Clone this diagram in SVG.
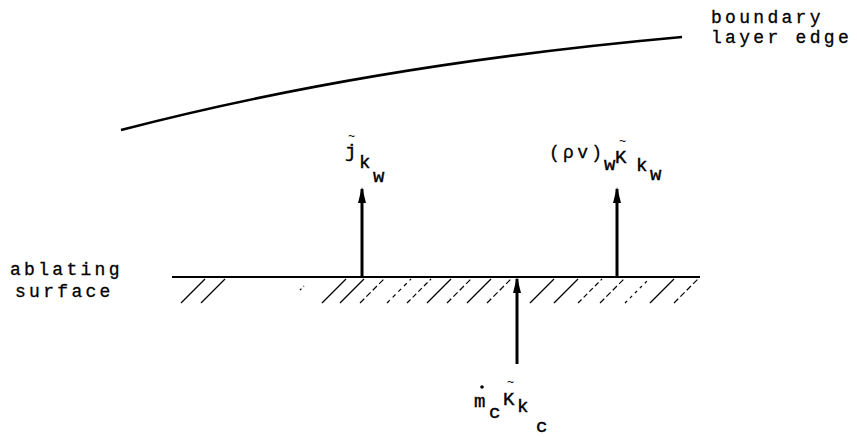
<svg xmlns="http://www.w3.org/2000/svg" width="857" height="437" viewBox="0 0 857 437">
<defs>
<style>
.t{font-family:"Liberation Mono","Courier New",monospace;font-size:18px;fill:#000;letter-spacing:3.3px;stroke:#000;stroke-width:0.3}
.s{font-family:"Liberation Mono","Courier New",monospace;font-size:19px;fill:#000;stroke:#000;stroke-width:0.4}
.tl{font-family:"Liberation Mono","Courier New",monospace;font-size:12px;fill:#000}
.ln{stroke:#000;fill:none}
.ar{stroke:#000;stroke-width:3;fill:none}
.h{stroke:#000;stroke-width:1.2;fill:none}
</style>
<marker id="ah" viewBox="0 0 16 8" refX="14" refY="4" markerWidth="16" markerHeight="8" markerUnits="userSpaceOnUse" orient="auto">
<path d="M0,0 L16,4 L0,8 Z" fill="#000"/>
</marker>
</defs>
<rect width="857" height="437" fill="#fff"/>
<g id="boundary-layer">
<path class="ln" stroke-width="2.5" d="M121,130 Q370,65 682,37"/>
<text class="t" x="711" y="23">boundary</text>
<text class="t" x="711" y="43">layer edge</text>
</g>
<g id="surface">
<line class="ln" stroke-width="2" x1="172" y1="277" x2="700" y2="277"/>
<g class="h">
<line x1="181" y1="303" x2="205" y2="279"/>
<line x1="201" y1="303" x2="225" y2="279"/>
<line x1="300" y1="290" x2="304" y2="286" stroke-dasharray="2 3"/>
<line x1="322" y1="303" x2="346" y2="279"/>
<line x1="340" y1="303" x2="364" y2="279"/>
<line x1="360" y1="303" x2="384" y2="279" stroke-dasharray="6 3"/>
<line x1="387" y1="303" x2="411" y2="279" stroke-dasharray="4 4"/>
<line x1="407" y1="303" x2="431" y2="279" stroke-dasharray="5 3"/>
<line x1="427" y1="303" x2="451" y2="279"/>
<line x1="447" y1="303" x2="471" y2="279" stroke-dasharray="6 3"/>
<line x1="467" y1="303" x2="491" y2="279"/>
<line x1="487" y1="303" x2="511" y2="279" stroke-dasharray="6 3"/>
<line x1="530" y1="303" x2="554" y2="279"/>
<line x1="554" y1="303" x2="578" y2="279"/>
<line x1="578" y1="303" x2="602" y2="279" stroke-dasharray="5 3"/>
<line x1="600" y1="303" x2="624" y2="279" stroke-dasharray="6 3"/>
<line x1="625" y1="303" x2="649" y2="279" stroke-dasharray="3 4"/>
<line x1="650" y1="303" x2="674" y2="279"/>
<line x1="674" y1="303" x2="698" y2="279" stroke-dasharray="6 3"/>
</g>
<text class="t" x="10" y="275">ablating</text>
<text class="t" x="15" y="297">surface</text>
</g>
<g id="connectors">
<line class="ar" x1="362" y1="277" x2="362" y2="189" marker-end="url(#ah)"/>
<line class="ar" x1="617" y1="277" x2="617" y2="189" marker-end="url(#ah)"/>
<line class="ar" x1="517" y1="364" x2="517" y2="279" marker-end="url(#ah)"/>
</g>
<g id="label-j">
<text class="s" x="345" y="157">j</text>
<text class="tl" x="348" y="140">~</text>
<text class="s" x="359" y="168">k</text>
<text class="s" x="373" y="182">w</text>
</g>
<g id="label-rhov">
<text class="t" x="549" y="158" font-size="14" letter-spacing="2.4">(ρv)</text>
<text class="s" x="604" y="170">w</text>
<text class="s" x="615" y="163">K</text>
<text class="tl" x="619" y="145">~</text>
<text class="s" x="636" y="171">k</text>
<text class="s" x="650" y="180">w</text>
</g>
<g id="label-mdot">
<text class="s" x="474" y="407">m</text>
<circle cx="482" cy="387" r="1.8" fill="#000"/>
<text class="s" x="489" y="418">c</text>
<text class="s" x="503" y="405">K</text>
<text class="tl" x="507" y="386">~</text>
<text class="s" x="517" y="412">k</text>
<text class="s" x="536" y="432">c</text>
</g>
</svg>
